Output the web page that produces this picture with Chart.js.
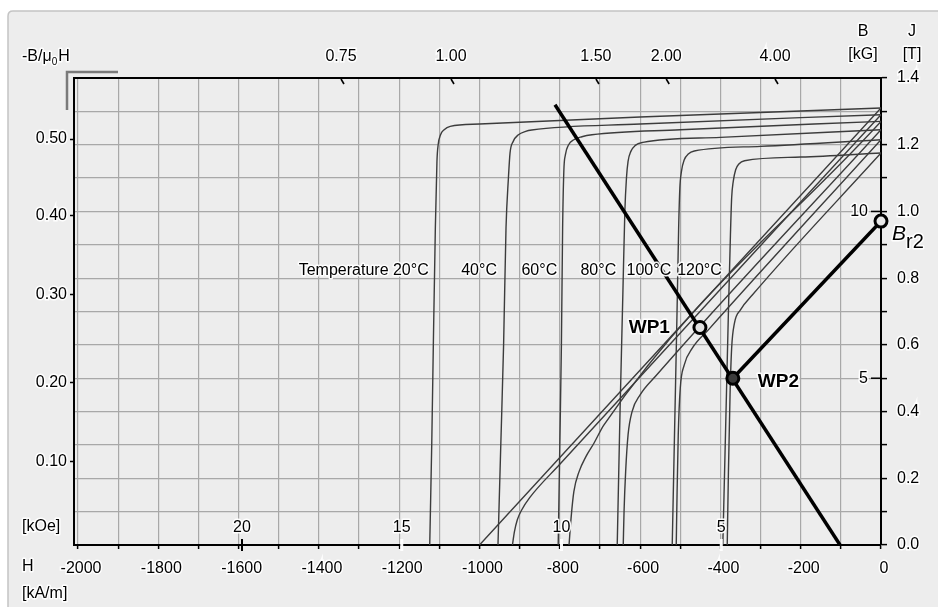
<!DOCTYPE html>
<html><head><meta charset="utf-8">
<script src="https://cdn.jsdelivr.net/npm/chart.js@4.4.0/dist/chart.umd.min.js"></script>
<style>html,body{margin:0;padding:0;background:#fff;}#wrap{width:938px;height:607px;position:relative;}</style>
</head><body><div id="wrap"><canvas id="c" width="938" height="607"></canvas></div>
<script>
// ---------- data (H in kA/m, J/B in T) ----------
const TEMPERATURES = ['20°C','40°C','60°C','80°C','100°C','120°C'];
const J20  = [[-1124,0],[-1119,0.3],[-1115,0.6],[-1110,0.95],[-1106,1.15],[-1103,1.2],[-1097,1.23],[-1088,1.245],[-1073,1.255],[-1000,1.262],[-600,1.283],[0,1.31]];
const J40  = [[-954,0],[-947,0.3],[-940,0.6],[-934,0.95],[-928,1.1],[-924,1.175],[-916,1.21],[-903,1.23],[-885,1.24],[-870,1.244],[-600,1.262],[0,1.29]];
const J60  = [[-804,0],[-800,0.3],[-796,0.6],[-793,0.95],[-790,1.12],[-786,1.17],[-778,1.2],[-765,1.215],[-745,1.224],[-720,1.23],[-500,1.245],[0,1.27]];
const J80  = [[-657,0],[-650,0.4],[-643,0.75],[-638,1.0],[-634,1.1],[-630,1.15],[-623,1.18],[-612,1.198],[-593,1.207],[-400,1.222],[0,1.245]];
const J100 = [[-520,0],[-514,0.35],[-508,0.7],[-504,0.95],[-501,1.07],[-497,1.12],[-490,1.155],[-480,1.172],[-465,1.181],[-300,1.195],[0,1.215]];
const J120 = [[-394,0],[-387,0.35],[-380,0.7],[-375,0.93],[-372,1.04],[-368,1.09],[-362,1.125],[-354,1.142],[-340,1.152],[-200,1.163],[0,1.175]];
const B20  = [[-1000,0],[0,1.31]];
const B40  = [[-918,0],[-913,0.04],[-906,0.075],[-895,0.105],[-875,0.142],[-800,0.242],[0,1.29]];
const B60  = [[-777,0],[-772,0.08],[-765,0.16],[-752,0.22],[-735,0.265],[-715,0.305],[-690,0.36],[0,1.27]];
const B80  = [[-642,0],[-640,0.1],[-636,0.22],[-630,0.33],[-620,0.4],[-600,0.45],[-560,0.508],[0,1.245]];
const B100 = [[-510,0],[-508,0.15],[-505,0.33],[-500,0.47],[-490,0.54],[-470,0.59],[-430,0.645],[0,1.215]];
const B120 = [[-383,0],[-380,0.22],[-376,0.45],[-372,0.59],[-365,0.665],[-350,0.705],[-320,0.75],[0,1.175]];
const LOAD_LINE_1 = [[-812,1.32],[-102,0]];
const LOAD_LINE_2 = [[-369,0.5],[0,0.971]];
const WORKING_POINTS = [[-451,0.652],[-369,0.5],[0,0.971]];
const WORKING_POINT_NAMES = ['WP1','WP2','Br2'];

// ---------- ticks ----------
const H_TICKS = [-2000,-1900,-1800,-1700,-1600,-1500,-1400,-1300,-1200,-1100,-1000,-900,-800,-700,-600,-500,-400,-300,-200,-100,0];
const J_TICKS = [0,0.1,0.2,0.3,0.4,0.5,0.6,0.7,0.8,0.9,1.0,1.1,1.2,1.3,1.4];
const PC_TICK_J = [1.217,0.989,0.752,0.486,0.249];
const PC_TICK_LABELS = ['0.50','0.40','0.30','0.20','0.10'];
const TOP_TICK_H = [-1345,-1071,-710,-535,-264];
const TOP_TICK_LABELS = ['0.75','1.00','1.50','2.00','4.00'];
const KOE_TICKS = [20,15,10,5];
const KG_TICKS = [10,5];
const KA_PER_KOE = 79.5775;

// ---------- drawing ----------
const FONT = "'Liberation Sans', Arial, sans-serif";
const toXY = a => a.map(p => ({x:p[0], y:p[1]}));
const curve = (d, lbl) => ({label: lbl, data: toXY(d), showLine: true, borderColor: '#3c3c3c', borderWidth: 1.4,
  pointRadius: 0, fill: false, cubicInterpolationMode: 'monotone'});
const JS = [J20,J40,J60,J80,J100,J120];
const BS = [B20,B40,B60,B80,B100,B120];

const datasets = [
  {label:'points', data: toXY(WORKING_POINTS), showLine:false, pointRadius:6, pointBorderWidth:3,
   pointBorderColor:'#000', pointBackgroundColor:['#e2e2e2','#3a3a3a','#e8e8e8'], clip:false},
  {label:'load1', data: toXY(LOAD_LINE_1), showLine:true, borderColor:'#000', borderWidth:3.5, pointRadius:0, tension:0},
  {label:'load2', data: toXY(LOAD_LINE_2), showLine:true, borderColor:'#000', borderWidth:3.5, pointRadius:0, tension:0},
];
JS.forEach((d,i)=>datasets.push(curve(d,'J '+TEMPERATURES[i])));
BS.forEach((d,i)=>datasets.push(curve(d,'B '+TEMPERATURES[i])));

function txt(ctx, s, x, y, align, font, baseline) {
  ctx.font = font; ctx.textAlign = align; ctx.textBaseline = baseline || 'middle';
  ctx.lineJoin = 'round'; ctx.lineWidth = 3; ctx.strokeStyle = 'rgba(255,255,255,0.95)';
  ctx.strokeText(s, x, y); ctx.fillStyle = '#000'; ctx.fillText(s, x, y);
}

const deco = {
  id: 'deco',
  beforeDraw(chart) {
    const c = chart.ctx;
    c.save();
    c.fillStyle = '#fff'; c.fillRect(0,0,938,607);
    c.fillStyle = '#ededed'; c.strokeStyle = '#c4c4c4'; c.lineWidth = 1.5;
    c.beginPath(); c.moveTo(8,620); c.lineTo(8,16); c.quadraticCurveTo(8,11,13,11); c.lineTo(950,11);
    c.lineTo(950,620); c.closePath(); c.fill(); c.stroke();
    c.restore();
  },
  afterDraw(chart) {
    const c = chart.ctx, xs = chart.scales.x, ys = chart.scales.y, a = chart.chartArea;
    c.save();
    const f16 = '16px ' + FONT;
    // top-left bracket
    c.strokeStyle = '#7a7a7a'; c.lineWidth = 2.5;
    c.beginPath(); c.moveTo(67,110); c.lineTo(67,72); c.lineTo(118,72); c.stroke();
    // kOe ticks & labels
    c.strokeStyle = '#000'; c.lineWidth = 2;
    KOE_TICKS.forEach(k => {
      const px = xs.getPixelForValue(-k*KA_PER_KOE);
      c.beginPath(); c.moveTo(px, a.bottom-6); c.lineTo(px, a.bottom+6); c.stroke();
      txt(c, String(k), px, a.bottom-17, 'center', f16);
    });
    // kG ticks & labels
    KG_TICKS.forEach(k => {
      const py = ys.getPixelForValue(k/10);
      c.strokeStyle = '#000'; c.lineWidth = 1.5;
      c.beginPath(); c.moveTo(a.right-10, py); c.lineTo(a.right, py); c.stroke();
      txt(c, String(k), a.right-13, py, 'right', f16);
    });
    // top slanted ticks
    c.strokeStyle = '#000'; c.lineWidth = 1.6;
    TOP_TICK_H.forEach(h => {
      const px = xs.getPixelForValue(h);
      c.beginPath(); c.moveTo(px, a.top+1); c.lineTo(px+3, a.top+6); c.stroke();
    });
    // axis titles
    txt(c, '-B/μ', 22, 57, 'left', f16);
    c.font = f16; const w1 = c.measureText('-B/μ').width;
    txt(c, '0', 22+w1, 62, 'left', '10px ' + FONT);
    c.font = '10px ' + FONT; const w2 = c.measureText('0').width;
    txt(c, 'H', 22+w1+w2+1, 57, 'left', f16);
    txt(c, 'B', 863, 32, 'center', f16);
    txt(c, '[kG]', 863, 55, 'center', f16);
    txt(c, 'J', 912, 32, 'center', f16);
    txt(c, '[T]', 912, 55, 'center', f16);
    txt(c, '[kOe]', 22, 527, 'left', f16);
    txt(c, 'H', 22, 567, 'left', f16);
    txt(c, '[kA/m]', 22, 594, 'left', f16);
    // temperature labels, right-aligned at each curve's coercivity
    const tj = ys.getPixelForValue(0.824);
    JS.forEach((d,i) => {
      const px = xs.getPixelForValue(d[0][0]);
      txt(c, (i===0 ? 'Temperature ' : '') + TEMPERATURES[i], px-1, tj, 'right', f16);
    });
    // working point labels
    const fb = 'bold 19px ' + FONT;
    const p1 = WORKING_POINTS[0], p2 = WORKING_POINTS[1], p3 = WORKING_POINTS[2];
    txt(c, WORKING_POINT_NAMES[0], xs.getPixelForValue(p1[0])-30, ys.getPixelForValue(p1[1]), 'right', fb);
    txt(c, WORKING_POINT_NAMES[1], xs.getPixelForValue(p2[0])+25, ys.getPixelForValue(p2[1])+4, 'left', fb);
    const bx = xs.getPixelForValue(p3[0])+11, by = ys.getPixelForValue(p3[1])+19;
    txt(c, 'B', bx, by, 'left', 'italic 21px ' + FONT, 'alphabetic');
    txt(c, 'r2', bx+14, by+8, 'left', '20px ' + FONT, 'alphabetic');
    c.restore();
  }
};

const tickFont = {family: FONT, size: 16};
const halo = {textStrokeColor:'rgba(255,255,255,0.95)', textStrokeWidth:3, color:'#000', font:tickFont, autoSkip:false};
new Chart(document.getElementById('c'), {
  type: 'scatter',
  data: {datasets},
  plugins: [deco],
  options: {
    responsive: false, animation: false, events: [],
    layout: {padding: 0},
    plugins: {legend: {display:false}, tooltip: {enabled:false}},
    scales: {
      x: {type:'linear', position:'bottom', min:-2010, max:0,
        afterBuildTicks: s => { s.ticks = H_TICKS.map(v => ({value:v})); },
        afterFit: s => { s.height = 62; },
        ticks: Object.assign({}, halo, {maxRotation:0, padding:10, labelOffset:3,
          callback: v => (v % 200 === 0 ? String(v) : '')}),
        grid: {color:'#a8a8a8', lineWidth:1.2, tickColor:'#000', tickLength:4, tickWidth:1.5},
        border: {color:'#000', width:2}},
      xTop: {type:'linear', position:'top', min:-2010, max:0,
        afterBuildTicks: s => { s.ticks = TOP_TICK_H.map(v => ({value:v})); },
        afterFit: s => { s.height = 78; },
        ticks: Object.assign({}, halo, {maxRotation:0, padding:4,
          callback: (v, i) => TOP_TICK_LABELS[i]}),
        grid: {display:false},
        border: {display:true, color:'#000', width:2}},
      y: {type:'linear', position:'right', min:0, max:1.4,
        afterBuildTicks: s => { s.ticks = J_TICKS.map(v => ({value:v})); },
        afterFit: s => { s.width = 57; },
        ticks: Object.assign({}, halo, {padding:10,
          callback: v => (Math.round(v*10) % 2 === 0 ? v.toFixed(1) : '')}),
        grid: {color:'#a8a8a8', lineWidth:1.2, tickColor:'#000', tickLength:6, tickWidth:1.5},
        border: {color:'#000', width:2}},
      yLeft: {type:'linear', position:'left', min:0, max:1.4,
        afterBuildTicks: s => { s.ticks = PC_TICK_J.map(v => ({value:v})); },
        afterFit: s => { s.width = 74; },
        ticks: Object.assign({}, halo, {padding:3,
          callback: (v, i) => PC_TICK_LABELS[i]}),
        grid: {drawOnChartArea:false, color:'#000', tickLength:4, tickWidth:1.5},
        border: {color:'#000', width:2}}
    }
  }
});
</script></body></html>
